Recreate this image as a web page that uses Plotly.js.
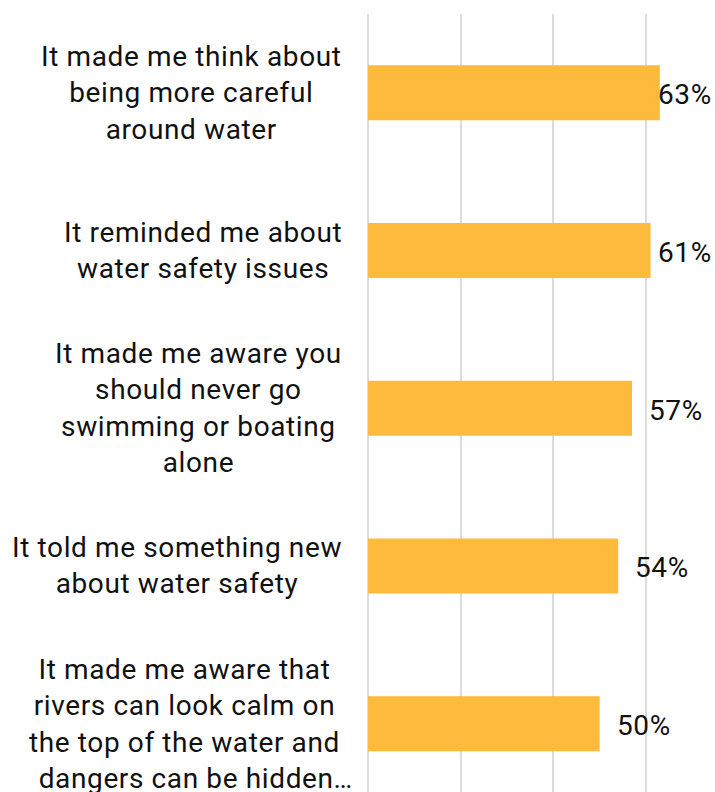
<!DOCTYPE html>
<html><head><meta charset="utf-8">
<script src="https://cdn.plot.ly/plotly-3.0.1.min.js"></script>
<style>html,body{margin:0;padding:0;background:#fff}
text.annotation-text{letter-spacing:0.62px}</style>
</head><body>
<div id="chart" style="width:715px;height:792px"></div>
<script>
const categories = [
  "It made me think about<br>being more careful<br>around water",
  "It reminded me about<br>water safety issues",
  "It made me aware you<br>should never go<br>swimming or boating<br>alone",
  "It told me something new<br>about water safety",
  "It made me aware that<br>rivers can look calm on<br>the top of the water and<br>\u00a0\u00a0\u00a0dangers can be hidden…"
];
const values = [63, 61, 57, 54, 50];
const valueLabels = ["63%", "61%", "57%", "54%", "50%"];

const W = 715, H = 792, ML = 368, MT = 14;
const xMax = 74.9;
const pxPerUnit = (W - ML) / xMax;
const labelW = 57;

const ids = categories.map((c, i) => "c" + i);

const annotations = [];
categories.forEach((c, i) => {
  annotations.push({
    xref: "paper", x: 0, xanchor: "right", xshift: (i === categories.length - 1) ? -13 : -24,
    yref: "y", y: ids[i], yanchor: "middle",
    text: c, align: "center", showarrow: false,
    font: {family: "Roboto", size: 28, color: "#111111"}
  });
});
values.forEach((v, i) => {
  const barEnd = ML + v * pxPerUnit;
  const shift = Math.min(15, 713 - labelW - barEnd);
  annotations.push({
    xref: "x", x: v, xanchor: "left", xshift: shift,
    yref: "y", y: ids[i], yanchor: "middle", yshift: -2,
    text: valueLabels[i], showarrow: false,
    font: {family: "Roboto", size: 28, color: "#111111"}
  });
});

const trace = {
  type: "bar", orientation: "h",
  x: values, y: ids,
  marker: {color: "#FDBA3D"},
  hoverinfo: "none"
};

const plotH = H - MT;
const catSpacing = 157.7;
const layout = {
  width: W, height: H,
  margin: {l: ML, r: 0, t: MT, b: 0, pad: 0},
  paper_bgcolor: "#fff", plot_bgcolor: "#fff",
  bargap: 0.651,
  showlegend: false,
  xaxis: {range: [0, xMax], dtick: 20, showticklabels: false, showgrid: true,
          gridcolor: "#dcdcdc", gridwidth: 2, zeroline: true, zerolinecolor: "#dcdcdc",
          zerolinewidth: 2, showline: false, ticks: ""},
  yaxis: {type: "category", categoryorder: "array", categoryarray: ids,
          range: [-0.5 + plotH / catSpacing, -0.5],
          showticklabels: false, showgrid: false, zeroline: false, ticks: ""},
  annotations: annotations
};
Plotly.newPlot("chart", [trace], layout, {staticPlot: true, displayModeBar: false});
</script>
</body></html>
